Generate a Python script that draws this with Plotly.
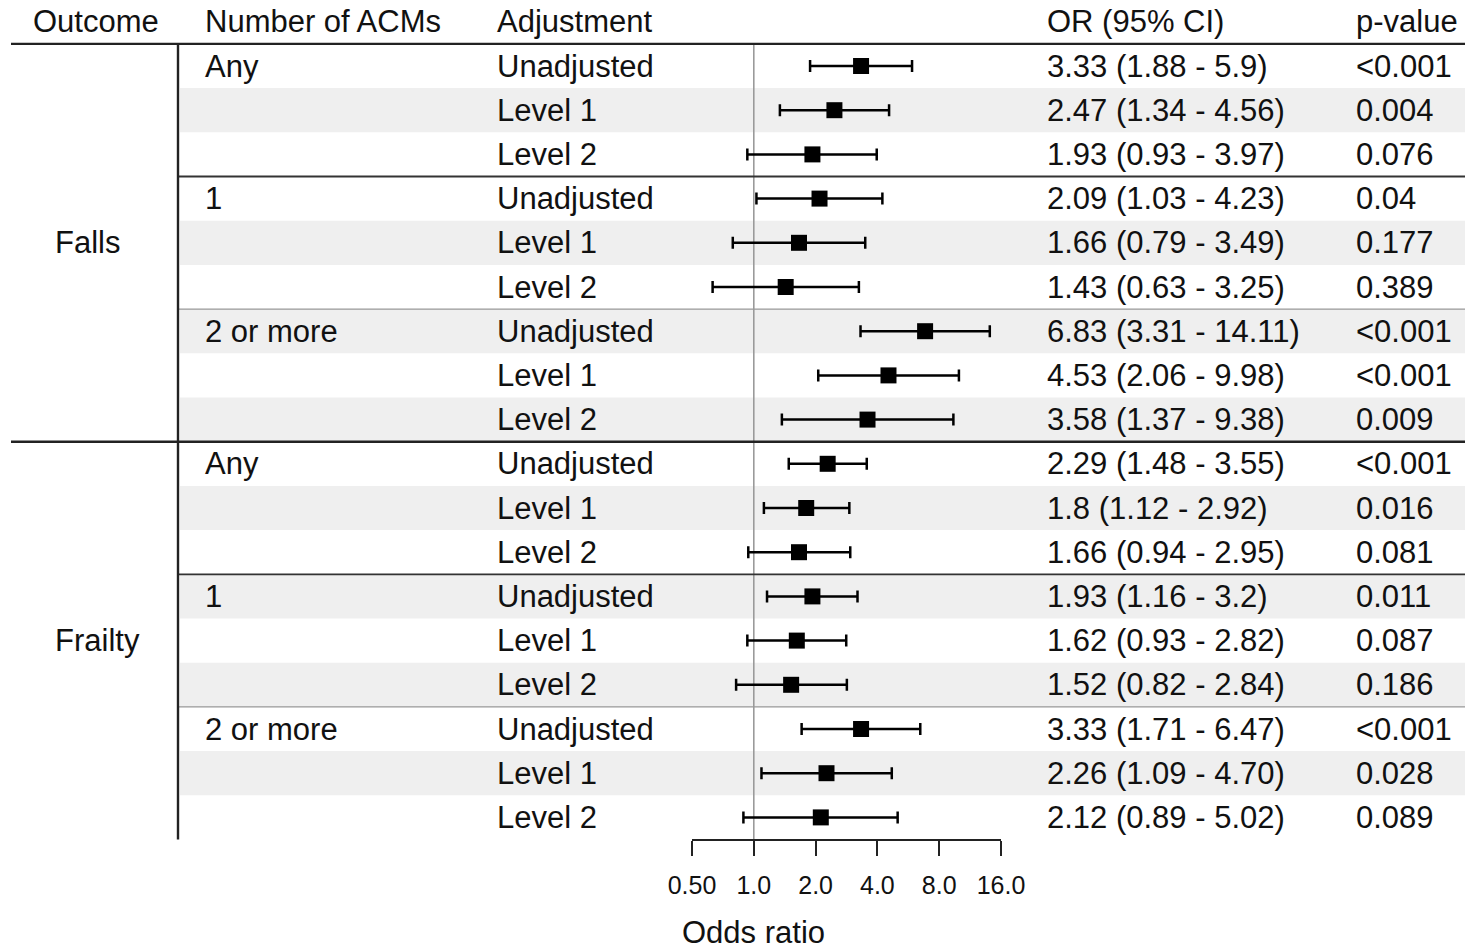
import plotly.graph_objects as go

# ---------------- data ----------------
outcomes = ["Falls", "Frailty"]
outcome_rows = [4, 13]
acm_groups = ["Any", "1", "2 or more", "Any", "1", "2 or more"]
acm_rows = [0, 3, 6, 9, 12, 15]
adjustments = ["Unadjusted", "Level 1", "Level 2"] * 6
or_vals = [3.33, 2.47, 1.93, 2.09, 1.66, 1.43, 6.83, 4.53, 3.58,
           2.29, 1.80, 1.66, 1.93, 1.62, 1.52, 3.33, 2.26, 2.12]
ci_low = [1.88, 1.34, 0.93, 1.03, 0.79, 0.63, 3.31, 2.06, 1.37,
          1.48, 1.12, 0.94, 1.16, 0.93, 0.82, 1.71, 1.09, 0.89]
ci_high = [5.9, 4.56, 3.97, 4.23, 3.49, 3.25, 14.11, 9.98, 9.38,
           3.55, 2.92, 2.95, 3.2, 2.82, 2.84, 6.47, 4.70, 5.02]
or_text = ["3.33 (1.88 - 5.9)", "2.47 (1.34 - 4.56)", "1.93 (0.93 - 3.97)",
           "2.09 (1.03 - 4.23)", "1.66 (0.79 - 3.49)", "1.43 (0.63 - 3.25)",
           "6.83 (3.31 - 14.11)", "4.53 (2.06 - 9.98)", "3.58 (1.37 - 9.38)",
           "2.29 (1.48 - 3.55)", "1.8 (1.12 - 2.92)", "1.66 (0.94 - 2.95)",
           "1.93 (1.16 - 3.2)", "1.62 (0.93 - 2.82)", "1.52 (0.82 - 2.84)",
           "3.33 (1.71 - 6.47)", "2.26 (1.09 - 4.70)", "2.12 (0.89 - 5.02)"]
p_vals = ["<0.001", "0.004", "0.076", "0.04", "0.177", "0.389",
          "<0.001", "<0.001", "0.009", "<0.001", "0.016", "0.081",
          "0.011", "0.087", "0.186", "<0.001", "0.028", "0.089"]
shaded = [0, 1, 0, 0, 1, 0, 1, 0, 1, 0, 1, 0, 1, 0, 1, 0, 1, 0]
headers = ["Outcome", "Number of ACMs", "Adjustment", "OR (95% CI)", "p-value"]
tick_vals = [0.5, 1, 2, 4, 8, 16]
tick_text = ["0.50", "1.0", "2.0", "4.0", "8.0", "16.0"]

# ---------------- layout constants (screen pixels) ----------------
W, H = 1465, 949
ROW_PX = 44.2
ROW0_PX = 66
y_top = ROW0_PX / ROW_PX
y_bot = -(H - ROW0_PX) / ROW_PX
FONT = "Liberation Sans, Arial, sans-serif"
FS = 31
TXT = "#111111"
n = len(or_vals)
ys = [-i for i in range(n)]


def px(x):
    return x / W


def ypx(p):
    return (ROW0_PX - p) / ROW_PX


fig = go.Figure()

fig.add_trace(go.Scatter(
    x=or_vals, y=ys, mode="markers",
    marker=dict(symbol="square", size=16, color="black"),
    error_x=dict(type="data", symmetric=False,
                 array=[h - o for h, o in zip(ci_high, or_vals)],
                 arrayminus=[o - l for o, l in zip(or_vals, ci_low)],
                 color="black", thickness=2.5, width=6),
    showlegend=False, hoverinfo="skip"))

shapes = []
for i, s in enumerate(shaded):
    if s:
        shapes.append(dict(type="rect", xref="paper", yref="y",
                           x0=px(180), x1=1, y0=-i - 0.5, y1=-i + 0.5,
                           fillcolor="#efefef", line=dict(width=0), layer="below"))
shapes.append(dict(type="line", xref="x", yref="y", x0=1, x1=1,
                   y0=0.5, y1=-n + 0.5, line=dict(color="#9a9a9a", width=1.6),
                   layer="below"))
shapes.append(dict(type="line", xref="paper", yref="y", x0=px(11), x1=1,
                   y0=0.5, y1=0.5, line=dict(color="#222", width=2.4)))
shapes.append(dict(type="line", xref="paper", yref="y", x0=px(11), x1=1,
                   y0=-8.5, y1=-8.5, line=dict(color="#222", width=2.4)))
for yv, col, wd in [(-2.5, "#333", 1.8), (-5.5, "#999", 1.3),
                    (-11.5, "#333", 1.8), (-14.5, "#999", 1.3)]:
    shapes.append(dict(type="line", xref="paper", yref="y", x0=px(178), x1=1,
                       y0=yv, y1=yv, line=dict(color=col, width=wd)))
shapes.append(dict(type="line", xref="paper", yref="y", x0=px(178), x1=px(178),
                   y0=0.5, y1=-n + 0.5, line=dict(color="#222", width=2.4)))

ann = []


def txt(x, y, t):
    ann.append(dict(x=px(x - 2), y=y, xref="paper", yref="y", text=t,
                    showarrow=False, xanchor="left", yanchor="middle",
                    font=dict(family=FONT, size=FS, color=TXT)))


head_x = [33, 205, 497, 1047, 1356]
for hx, h in zip(head_x, headers):
    txt(hx, 1, h)
for o, r in zip(outcomes, outcome_rows):
    txt(55, -r, o)
for g, r in zip(acm_groups, acm_rows):
    txt(205, -r, g)
for i in range(n):
    txt(497, -i, adjustments[i])
    txt(1047, -i, or_text[i])
    txt(1356, -i, p_vals[i])
# axis title (log axis: annotation x is log10 value)
ann.append(dict(x=0, y=ypx(932), xref="x", yref="y", text="Odds ratio",
                showarrow=False, xanchor="center", yanchor="middle",
                font=dict(family=FONT, size=FS, color=TXT)))

axis_pos = (H - 840) / H
fig.update_layout(
    template="none",
    width=W, height=H,
    margin=dict(l=0, r=0, t=0, b=0, pad=0, autoexpand=False),
    paper_bgcolor="white", plot_bgcolor="rgba(0,0,0,0)",
    shapes=shapes, annotations=ann,
    xaxis=dict(type="log", domain=[px(692), px(1001)],
               range=[-0.30103, 1.20412], anchor="free", position=axis_pos,
               automargin=False,
               showline=True, linecolor="#222", linewidth=2,
               ticks="outside", ticklen=15, tickwidth=2, tickcolor="#222",
               ticklabelstandoff=8,
               tickvals=tick_vals, ticktext=tick_text,
               tickfont=dict(family=FONT, size=25, color=TXT),
               showgrid=False, zeroline=False),
    yaxis=dict(range=[y_bot, y_top], domain=[0, 1], visible=False,
               automargin=False, showgrid=False, zeroline=False),
)

fig.write_html(
    "out.html",
    config={"displayModeBar": False},
    post_script="document.body.style.margin='0';"
                "document.documentElement.style.overflow='hidden';",
)
